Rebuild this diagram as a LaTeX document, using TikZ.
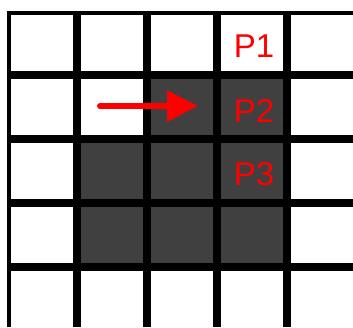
\documentclass[tikz,border=0pt]{standalone}
\usepackage{fontspec}
\setmainfont{Liberation Sans}
\usepackage{tikz}
\usepackage{tkz-euclide}
\usetikzlibrary{arrows.meta}
\definecolor{cellgray}{RGB}{64,64,64}

\begin{document}
\begin{tikzpicture}[x=1pt,y=-1pt]
  \useasboundingbox (0,0) rectangle (353,327);
  % shaded cells
  \fill[cellgray] (147,75) -- (287,75) -- (287,267) -- (77,267) -- (77,139) -- (147,139) -- cycle;
  % grid, cut at the top and left
  \begin{scope}
    \clip (7,11) rectangle (353,327);
    \foreach \x in {7,77,...,287} \draw[line width=7.5pt] (\x,0) -- (\x,327);
    \foreach \y in {11,75,...,267} \draw[line width=7.5pt] (0,\y) -- (353,\y);
  \end{scope}
  \tkzDefPoint(100,106){T}
  \tkzDefPoint(198,106){H}
  \tkzDrawSegment[-{Triangle[length=31pt,width=30pt]},line width=6pt,color=red](T,H)
  \node[anchor=base,text=red,font=\fontsize{33}{40}\selectfont] (P1) at (254,57) {P1};
  \node[anchor=base,text=red,font=\fontsize{33}{40}\selectfont] (P2) at (254,122) {P2};
  \node[anchor=base,text=red,font=\fontsize{33}{40}\selectfont] (P3) at (254,185) {P3};
\end{tikzpicture}
\end{document}
